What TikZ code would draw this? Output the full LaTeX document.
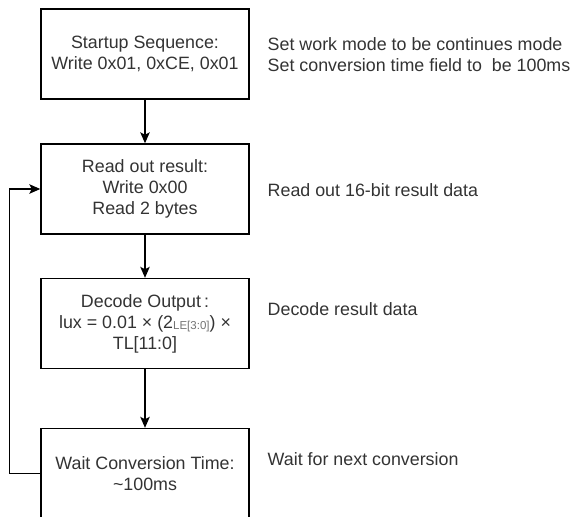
\documentclass[tikz,border=0pt]{standalone}
\usepackage{fontspec}
\setmainfont{Liberation Sans}
\usepackage{tikz}
\usetikzlibrary{arrows.meta}
\tikzset{basic/.style={draw=black,line width=1.4pt,text=black!80,
                       align=center,minimum width=208pt,minimum height=90pt,inner sep=2pt}}
\tikzset{note/.style={anchor=west,align=left,text=black!80,inner sep=0pt}}
\definecolor{subgray}{gray}{0.45}

\begin{document}
\begin{tikzpicture}[x=1pt,y=-1pt,line width=1.4pt,>={Stealth[length=11pt,width=9.5pt,inset=2.5pt]},
    font=\fontsize{17.85}{21}\selectfont]
    \tikzstyle{flow}=[->,draw=black]
    \useasboundingbox (0,0) rectangle (571,517);

    \node[basic] (start)  at (145,54)  {Startup Sequence:\\Write 0x01, 0xCE, 0x01};
    \node[basic] (read)   at (145,189) {Read out result:\\Write 0x00\\Read 2 bytes};
    \node[basic] (decode) at (145,323.5) {Decode Output\,:\\lux = 0.01 × (2{\color{subgray}\fontsize{11.5}{12}\selectfont\raisebox{-1pt}{LE[3:0]}}) ×\\TL[11:0]};
    \node[basic] (wait)   at (145,473.5) {Wait Conversion Time:\\\textasciitilde100ms};

    \draw[flow] (start) -- (read);
    \draw[flow] (read) -- (decode);
    \draw[flow] (decode) -- (wait);
    \draw[flow] (wait.west) -- ++(-31,0) |- (read.west);

    % Labels
    \node[note] (nstart)  at (267,54.5) {Set work mode to be continues mode\\Set conversion time field to\ \ be 100ms};
    \node[note] (nread)   at (267,190) {Read out 16-bit result data};
    \node[note] (ndecode) at (267,309) {Decode result data};
    \node[note] (nwait)   at (267,459) {Wait for next conversion};
\end{tikzpicture}
\end{document}
